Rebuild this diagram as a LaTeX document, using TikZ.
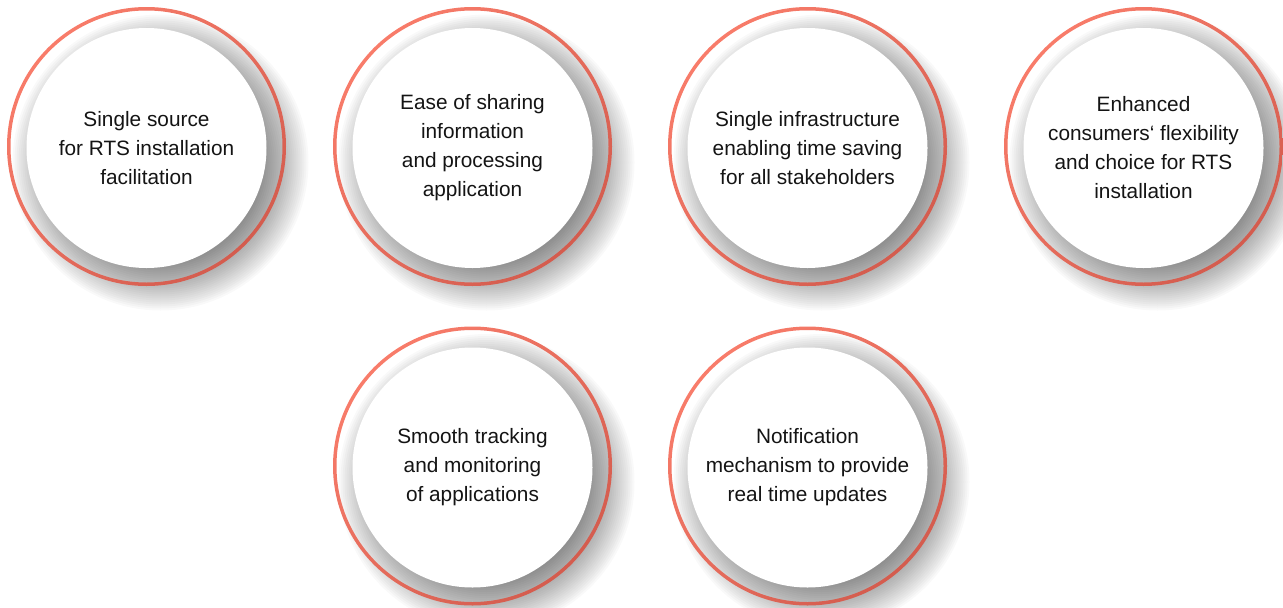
\documentclass[tikz,border=0pt]{standalone}
\usepackage{fontspec}
\setmainfont{Liberation Sans}
\definecolor{ringA}{RGB}{248,124,106}
\definecolor{ringB}{RGB}{212,92,78}
\tikzset{
  disk/.style={circle, fill=white, minimum size=240pt, inner sep=0pt, align=center,
    font=\fontsize{20.8}{29}\selectfont, text=black!92},
  softshadow/.style={fill=black, opacity=0.023},
}
\begin{document}
\begin{tikzpicture}[x=1pt,y=-1pt]
\useasboundingbox (0,0) rectangle (1283,608);
\coordinate (p1) at (146.5,146.5);
\coordinate (p2) at (472.5,146.5);
\coordinate (p3) at (807.5,146.5);
\coordinate (p4) at (1143.5,146.5);
\coordinate (p5) at (472.5,466);
\coordinate (p6) at (807.5,466);
% shadows
\foreach \p in {p1,p2,p3,p4,p5,p6}{
  \foreach \r in {96,98,...,148}{
    \fill[softshadow] ([shift={(14,16)}]\p) circle (\r pt);
  }
}
% rings
\foreach \p in {p1,p2,p3,p4,p5,p6}{
  \shade[even odd rule, top color=ringA, bottom color=ringB, shading angle=45]
    (\p) circle (139.5pt) (\p) circle (136pt);
}
% disks with text
\node[disk] (c1) at ([shift={(0,1.5)}]p1) {Single source\\for RTS installation\\facilitation};
\node[disk] (c2) at ([shift={(0,1.5)}]p2) {Ease of sharing\\information\\and processing\\application};
\node[disk] (c3) at ([shift={(0,1.5)}]p3) {Single infrastructure\\enabling time saving\\for all stakeholders};
\node[disk] (c4) at ([shift={(0,1.5)}]p4) {Enhanced\\consumers‘ flexibility\\and choice for RTS\\installation};
\node[disk] (c5) at ([shift={(0,1.5)}]p5) {Smooth tracking\\and monitoring\\of applications};
\node[disk] (c6) at ([shift={(0,1.5)}]p6) {Notification\\mechanism to provide\\real time updates};
\end{tikzpicture}
\end{document}
